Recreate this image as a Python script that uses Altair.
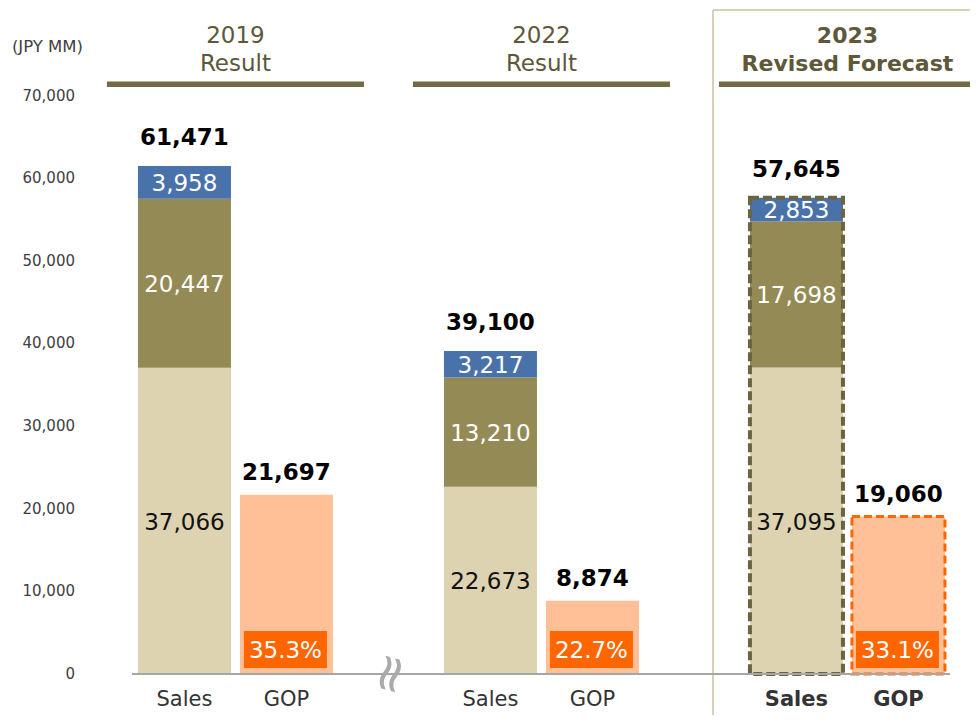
import altair as alt
import pandas as pd

# ---------------- data ----------------
groups = ["2019", "2022", "2023"]
header_line1 = ["2019", "2022", "2023"]
header_line2 = ["Result", "Result", "Revised Forecast"]
header_bold = [False, False, True]
sales_base = [37066, 22673, 37095]
sales_mid = [20447, 13210, 17698]
sales_top = [3958, 3217, 2853]
sales_total = [61471, 39100, 57645]
gop_values = [21697, 8874, 19060]
gop_margin = ["35.3%", "22.7%", "33.1%"]
bar_labels = ["Sales", "GOP"]
y_ticks = [0, 10000, 20000, 30000, 40000, 50000, 60000, 70000]
unit_label = "(JPY MM)"

# ---------------- styles ----------------
C_BASE = "#ddd3b0"
C_MID = "#948a55"
C_TOP = "#4a72aa"
C_GOP = "#ffc097"
C_GOP_DARK = "#ff6600"
C_HEAD = "#716a44"
C_HEAD_TXT = "#5d5838"
C_TXT = "#333333"
C_BOX = "#c9c1a0"

PLOT_H = 707
HALF = 0.456           # half bar width in slot units
Y_TOP = 80600
Y_BOTTOM = -(PLOT_H - 666) / (666 / Y_TOP)
X_LEFT, X_RIGHT = -0.828, 7.623
Y_HEAD1, Y_HEAD2, Y_HEAD_RULE = 77240, 73850, 71370
Y_CAT = -3150
Y_TOP_BOX = 80350
PCT_Y0, PCT_Y1, PCT_YT = 730, 5200, 2950
X_TICKLAB = -1.073
X_UNIT = -1.343

xscale = alt.Scale(domain=[X_LEFT, X_RIGHT], nice=False, zero=False)
yscale = alt.Scale(domain=[Y_BOTTOM, Y_TOP], nice=False, zero=False)


def X(f):
    return alt.X(f, type="quantitative", scale=xscale, axis=None)


def X2(f):
    return alt.X2(f)


def Y(f):
    return alt.Y(f, type="quantitative", scale=yscale, axis=None)


def Y2(f):
    return alt.Y2(f)


# ---------------- tables ----------------
seg_rows, gop_rows, tot_rows, cat_rows, head_rows = [], [], [], [], []
for i, g in enumerate(groups):
    s = 3 * i          # sales slot
    p = 3 * i + 1      # gop slot
    cum = 0
    for val, col, tcol in [(sales_base[i], C_BASE, "#111111"),
                           (sales_mid[i], C_MID, "#ffffff"),
                           (sales_top[i], C_TOP, "#ffffff")]:
        seg_rows.append(dict(x0=s - HALF, x1=s + HALF, xc=s, y0=cum, y1=cum + val,
                             yc=cum + val / 2, label=f"{val:,}", fill=col, tcol=tcol,
                             grp=g))
        cum += val
    gop_rows.append(dict(x0=p - HALF, x1=p + HALF, xc=p, y0=0, y1=gop_values[i],
                         px0=p - 0.417, px1=p + 0.397, pxc=p - 0.01,
                         py0=PCT_Y0, py1=PCT_Y1, pyt=PCT_YT, pct=gop_margin[i], grp=g))
    tot_rows.append(dict(xc=s, y=sales_total[i], label=f"{sales_total[i]:,}", kind="Sales", grp=g))
    tot_rows.append(dict(xc=p, y=gop_values[i], label=f"{gop_values[i]:,}", kind="GOP", grp=g))
    for k, lab in enumerate(bar_labels):
        cat_rows.append(dict(xc=s + k, y=Y_CAT, label=lab, bold=header_bold[i]))
    head_rows.append(dict(xc=s + 0.5, x0=s + 0.5 - 1.26, x1=s + 0.5 + 1.26,
                          y1=Y_HEAD1, y2=Y_HEAD2, yr=Y_HEAD_RULE,
                          l1=header_line1[i], l2=header_line2[i], bold=header_bold[i]))

seg = pd.DataFrame(seg_rows)
gop = pd.DataFrame(gop_rows)
tot = pd.DataFrame(tot_rows)
cat = pd.DataFrame(cat_rows)
head = pd.DataFrame(head_rows)
ticks = pd.DataFrame(dict(y=y_ticks, label=[f"{v:,}" for v in y_ticks], x=X_TICKLAB))

# ---------------- layers ----------------
tick_txt = alt.Chart(ticks).mark_text(fontSize=15, color="#404040", align="right",
                                      baseline="middle").encode(
    x=X("x"), y=Y("y"), text="label:N")
unit = alt.Chart(pd.DataFrame([dict(x=X_UNIT, y=75900, t=unit_label)])).mark_text(
    fontSize=16.5, color="#404040", baseline="middle").encode(x=X("x"), y=Y("y"), text="t:N")

box_v = alt.Chart(pd.DataFrame([dict(x=5.182, y0=Y_BOTTOM, y1=Y_TOP_BOX)])).mark_rule(
    color=C_BOX, strokeWidth=1.5).encode(x=X("x"), y=Y("y0"), y2=Y2("y1"))
box_h = alt.Chart(pd.DataFrame([dict(x0=5.182, x1=7.7, y=Y_TOP_BOX)])).mark_rule(
    color=C_BOX, strokeWidth=1.5).encode(x=X("x0"), x2=X2("x1"), y=Y("y"))

head_rule = alt.Chart(head).mark_rule(color=C_HEAD, strokeWidth=5.5).encode(
    x=X("x0"), x2=X2("x1"), y=Y("yr"))
head_reg = head[~head["bold"]]
head_b = head[head["bold"]]
head_t1 = alt.Chart(head_reg).mark_text(fontSize=23, color=C_HEAD_TXT, baseline="middle").encode(
    x=X("xc"), y=Y("y1"), text="l1:N")
head_t2 = alt.Chart(head_reg).mark_text(fontSize=23, color=C_HEAD_TXT, baseline="middle").encode(
    x=X("xc"), y=Y("y2"), text="l2:N")
head_b1 = alt.Chart(head_b).mark_text(fontSize=22, fontWeight="bold", color=C_HEAD_TXT,
                                      baseline="middle").encode(x=X("xc"), y=Y("y1"), text="l1:N")
head_b2 = alt.Chart(head_b).mark_text(fontSize=22, fontWeight="bold", color=C_HEAD_TXT,
                                      baseline="middle").encode(x=X("xc"), y=Y("y2"), text="l2:N")

seg_bars = alt.Chart(seg).mark_bar().encode(
    x=X("x0"), x2=X2("x1"), y=Y("y0"), y2=Y2("y1"),
    color=alt.Color("fill:N", scale=None))
gop_bars = alt.Chart(gop).mark_bar(color=C_GOP).encode(
    x=X("x0"), x2=X2("x1"), y=Y("y0"), y2=Y2("y1"))

sales_out = alt.Chart(tot[(tot["grp"] == "2023") & (tot["kind"] == "Sales")].assign(
    x0=lambda d: d.xc - HALF, x1=lambda d: d.xc + HALF, y0=0)).mark_bar(
    filled=False, stroke="#6b6440", strokeWidth=4, strokeDash=[9, 4]).encode(
    x=X("x0"), x2=X2("x1"), y=Y("y0"), y2=Y2("y"))
gop_out = alt.Chart(tot[(tot["grp"] == "2023") & (tot["kind"] == "GOP")].assign(
    x0=lambda d: d.xc - HALF, x1=lambda d: d.xc + HALF, y0=0)).mark_bar(
    filled=False, stroke=C_GOP_DARK, strokeWidth=3, strokeDash=[8, 4]).encode(
    x=X("x0"), x2=X2("x1"), y=Y("y0"), y2=Y2("y"))

pct_box = alt.Chart(gop).mark_bar(color=C_GOP_DARK).encode(
    x=X("px0"), x2=X2("px1"), y=Y("py0"), y2=Y2("py1"))
pct_txt = alt.Chart(gop).mark_text(fontSize=23, color="white", baseline="middle", dy=1).encode(
    x=X("pxc"), y=Y("pyt"), text="pct:N")

seg_txt = alt.Chart(seg).mark_text(fontSize=23, baseline="middle", dy=2).encode(
    x=X("xc"), y=Y("yc"), text="label:N", color=alt.Color("tcol:N", scale=None))

tot_s = alt.Chart(tot[tot["kind"] == "Sales"]).mark_text(
    fontSize=23, fontWeight="bold", color="black", baseline="alphabetic", dy=-21).encode(
    x=X("xc"), y=Y("y"), text="label:N")
tot_g = alt.Chart(tot[tot["kind"] == "GOP"]).mark_text(
    fontSize=23, fontWeight="bold", color="black", baseline="alphabetic", dy=-15).encode(
    x=X("xc"), y=Y("y"), text="label:N")

baseline = alt.Chart(pd.DataFrame([dict(x0=-0.514, x1=7.505, y=0)])).mark_rule(
    color="#a6a6a6", strokeWidth=2).encode(x=X("x0"), x2=X2("x1"), y=Y("y"))

brk = alt.Chart(pd.DataFrame([dict(x=2.015, y=0, t="≈")])).mark_text(
    fontSize=52, color="#aaaaaa", angle=105, baseline="middle", align="center").encode(
    x=X("x"), y=Y("y"), text="t:N")

cat_reg = alt.Chart(cat[~cat["bold"]]).mark_text(fontSize=21, color=C_TXT, baseline="middle").encode(
    x=X("xc"), y=Y("y"), text="label:N")
cat_b = alt.Chart(cat[cat["bold"]]).mark_text(fontSize=21, fontWeight="bold", color=C_TXT,
                                              baseline="middle").encode(
    x=X("xc"), y=Y("y"), text="label:N")

chart = alt.layer(
    seg_bars, box_v, box_h, head_rule, head_t1, head_t2, head_b1, head_b2,
    gop_bars, sales_out, gop_out, pct_box, pct_txt, seg_txt,
    tot_s, tot_g, baseline, brk, cat_reg, cat_b, tick_txt, unit
).properties(
    width=862, height=PLOT_H,
    padding={"left": 92, "top": 0, "right": 8, "bottom": 0},
    autosize=alt.AutoSizeParams(type="none"),
).configure(font="DejaVu Sans").configure_view(stroke=None)

chart.save("out.html", embed_options={"renderer": "svg", "actions": False})
